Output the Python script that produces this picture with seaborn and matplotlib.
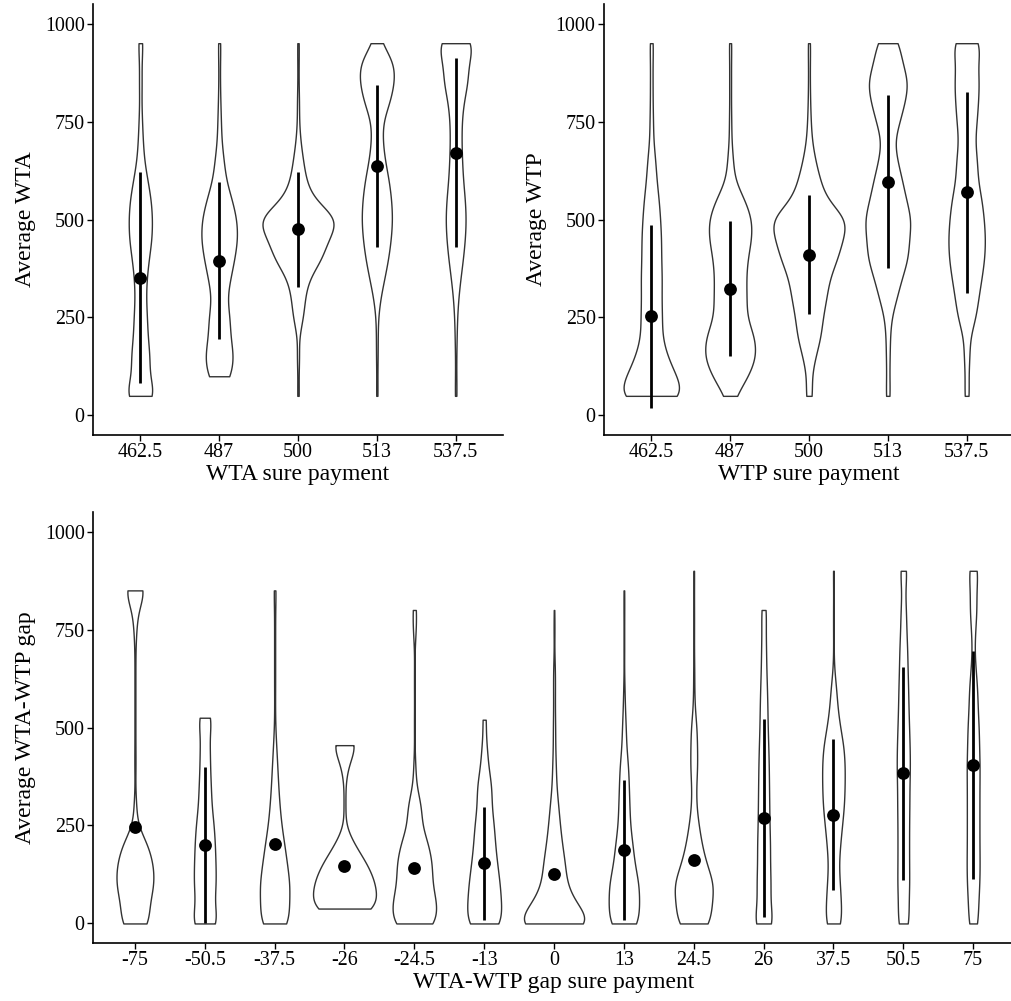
import numpy as np
import pandas as pd
import matplotlib
matplotlib.use("Agg")
import matplotlib.pyplot as plt
import seaborn as sns

# answer levels; for every payment: relative frequency of each level and number of answers
top_levels = [50, 100, 150, 200, 250, 300, 350, 400, 450, 500,
              550, 600, 650, 700, 750, 800, 850, 900, 950]

wta_cats = ["462.5", "487", "500", "513", "537.5"]
wta_share = [
    [199, 101, 116, 86, 81, 66, 76, 101, 138, 144, 130, 87, 46, 30, 22, 13, 18, 13, 33],
    [0, 121, 150, 110, 110, 72, 113, 153, 186, 177, 130, 67, 47, 22, 19, 13, 9, 9, 14],
    [10, 3, 14, 3, 52, 64, 98, 235, 279, 417, 140, 75, 49, 22, 9, 11, 5, 6, 9],
    [9, 4, 9, 9, 11, 34, 73, 111, 136, 150, 140, 116, 77, 55, 53, 127, 170, 175, 40],
    [11, 7, 6, 11, 17, 31, 57, 88, 111, 123, 111, 87, 75, 68, 72, 93, 150, 147, 236],
]
wta_n = [498, 754, 1500, 718, 633]
wta_mean = [352, 393, 475, 637, 671]
wta_lo = [83, 194, 329, 431, 429]
wta_hi = [622, 597, 622, 843, 913]

wtp_cats = ["462.5", "487", "500", "513", "537.5"]
wtp_share = [
    [302, 218, 138, 91, 93, 87, 92, 85, 86, 77, 65, 45, 36, 17, 16, 12, 12, 10, 17],
    [37, 130, 188, 176, 113, 118, 111, 121, 151, 156, 104, 29, 21, 9, 8, 6, 7, 6, 10],
    [25, 15, 43, 81, 92, 119, 136, 194, 228, 272, 115, 76, 43, 19, 12, 8, 6, 6, 9],
    [16, 9, 13, 14, 22, 61, 93, 138, 142, 161, 123, 97, 63, 39, 80, 115, 141, 96, 78],
    [19, 11, 21, 22, 68, 86, 110, 131, 137, 128, 112, 81, 78, 58, 75, 84, 91, 78, 112],
]
wtp_n = [1169, 1049, 1500, 944, 768]
wtp_mean = [253, 323, 410, 597, 569]
wtp_lo = [20, 151, 260, 376, 312]
wtp_hi = [486, 495, 563, 818, 826]

gap_levels = [0, 50, 100, 150, 200, 250, 300, 350, 400, 450,
              500, 550, 600, 650, 700, 750, 800, 850, 900]
gap_cats = ["-75", "-50.5", "-37.5", "-26", "-24.5", "-13", "0",
            "13", "24.5", "26", "37.5", "50.5", "75"]
gap_min = [0, 0, 0, 38, 0, 0, 0, 0, 0, 0, 0, 0, 0]
gap_max = [850, 525, 850, 455, 800, 520, 800, 850, 900, 800, 900, 900, 900]
gap_share = [
    [228, 214, 300, 281, 206, 30, 21, 2, 10, 7, 8, 8, 8, 8, 8, 22, 43, 184, 0],
    [237, 146, 188, 179, 169, 150, 110, 100, 85, 85, 45, 105, 0, 0, 0, 0, 0, 0, 0],
    [243, 239, 254, 206, 163, 113, 81, 60, 45, 27, 11, 7, 9, 8, 8, 8, 8, 20, 0],
    [209, 307, 415, 301, 132, 1, 16, 7, 41, 0, 191, 0, 0, 0, 0, 0, 0, 0, 0],
    [295, 293, 225, 234, 187, 89, 95, 20, 14, 1, 6, 3, 5, 4, 1, 20, 27, 0, 0],
    [257, 238, 221, 184, 154, 138, 100, 108, 54, 40, 0, 33, 0, 0, 0, 0, 0, 0, 0],
    [546, 283, 160, 146, 105, 76, 56, 29, 24, 15, 16, 11, 13, 13, 1, 7, 3, 0, 0],
    [246, 244, 244, 170, 140, 98, 90, 78, 70, 38, 31, 17, 11, 3, 7, 5, 7, 6, 0],
    [260, 264, 312, 191, 120, 75, 36, 35, 55, 50, 45, 14, 8, 8, 3, 5, 5, 4, 7],
    [188, 116, 129, 114, 118, 108, 104, 97, 93, 84, 73, 71, 60, 51, 44, 35, 47, 0, 0],
    [123, 111, 94, 75, 97, 126, 155, 165, 168, 152, 98, 59, 43, 8, 3, 6, 5, 4, 7],
    [91, 82, 95, 90, 90, 94, 97, 99, 104, 101, 91, 83, 75, 66, 61, 46, 42, 26, 65],
    [79, 81, 102, 105, 103, 104, 104, 103, 106, 97, 93, 74, 68, 38, 21, 32, 60, 49, 82],
]
gap_n = [880, 522, 701, 1500, 1035, 807, 1435, 726, 905, 375, 538, 310, 310]
gap_mean = [246, 199, 202, 147, 142, 153, 125, 188, 161, 269, 277, 384, 404]
# bars that fall below the axis limit are not drawn in the original
gap_lo = [np.nan, 0, np.nan, np.nan, np.nan, 10, np.nan, 8, np.nan, 17, 85, 112, 114]
gap_hi = [np.nan, 400, np.nan, np.nan, np.nan, 298, np.nan, 366, np.nan, 521, 470, 655, 695]


def long_form(cats, levels, share, n, vmin=None, vmax=None):
    rows = []
    for i, c in enumerate(cats):
        s = np.asarray(share[i], float)
        cnt = np.maximum(np.rint(s / s.sum() * n[i]), s > 0).astype(int)
        vals = np.repeat(np.asarray(levels, float), cnt)
        if vmin is not None:
            vals = np.clip(vals, vmin[i], vmax[i])
        rows.append(pd.DataFrame({"cat": c, "value": vals}))
    return pd.concat(rows, ignore_index=True)


sns.set_style("ticks")
plt.rcParams["font.family"] = ["Liberation Serif", "DejaVu Serif"]

BW = 35.0  # kernel sd in data units


def bw(kde):
    return BW / kde.dataset.std(ddof=1)


def panel(ax, cats, df, mean, lo, hi, xlabel, ylabel):
    sns.violinplot(data=df, x="cat", y="value", order=cats, ax=ax,
                   cut=0, width=0.9, density_norm="count", inner=None,
                   color="white", saturation=1, linecolor="#333333",
                   linewidth=1.0, bw_method=bw, gridsize=300)
    pos = np.arange(len(cats))
    lo = np.asarray(lo, float)
    hi = np.asarray(hi, float)
    ok = ~np.isnan(lo)
    ax.vlines(pos[ok], lo[ok], hi[ok], color="black", lw=2.0, zorder=3)
    ax.scatter(pos, mean, s=85, color="black", linewidths=0, zorder=4)
    ax.set_xlim(-0.6, len(cats) - 0.4)
    ax.set_ylim(-50, 1050)
    ax.set_yticks([0, 250, 500, 750, 1000])
    ax.set_xlabel(xlabel, fontsize=17, color="black", labelpad=1)
    ax.set_ylabel(ylabel, fontsize=17, color="black", labelpad=6)
    ax.tick_params(axis="both", labelsize=14.4, colors="black",
                   length=4, width=1.0, pad=2)
    sns.despine(ax=ax)
    for s in ["left", "bottom"]:
        ax.spines[s].set_color("black")
        ax.spines[s].set_linewidth(1.2)


fig = plt.figure(figsize=(10.11, 10.01), dpi=100)
ax1 = fig.add_axes([0.092, 0.5654, 0.4055, 0.4306])
ax2 = fig.add_axes([0.5974, 0.5654, 0.4055, 0.4306])
ax3 = fig.add_axes([0.092, 0.0579, 0.912, 0.4306])

panel(ax1, wta_cats, long_form(wta_cats, top_levels, wta_share, wta_n),
      wta_mean, wta_lo, wta_hi, "WTA sure payment", "Average WTA")
panel(ax2, wtp_cats, long_form(wtp_cats, top_levels, wtp_share, wtp_n),
      wtp_mean, wtp_lo, wtp_hi, "WTP sure payment", "Average WTP")
panel(ax3, gap_cats, long_form(gap_cats, gap_levels, gap_share, gap_n, gap_min, gap_max),
      gap_mean, gap_lo, gap_hi, "WTA-WTP gap sure payment", "Average WTA-WTP gap")

fig.savefig("out.png", dpi=100)
